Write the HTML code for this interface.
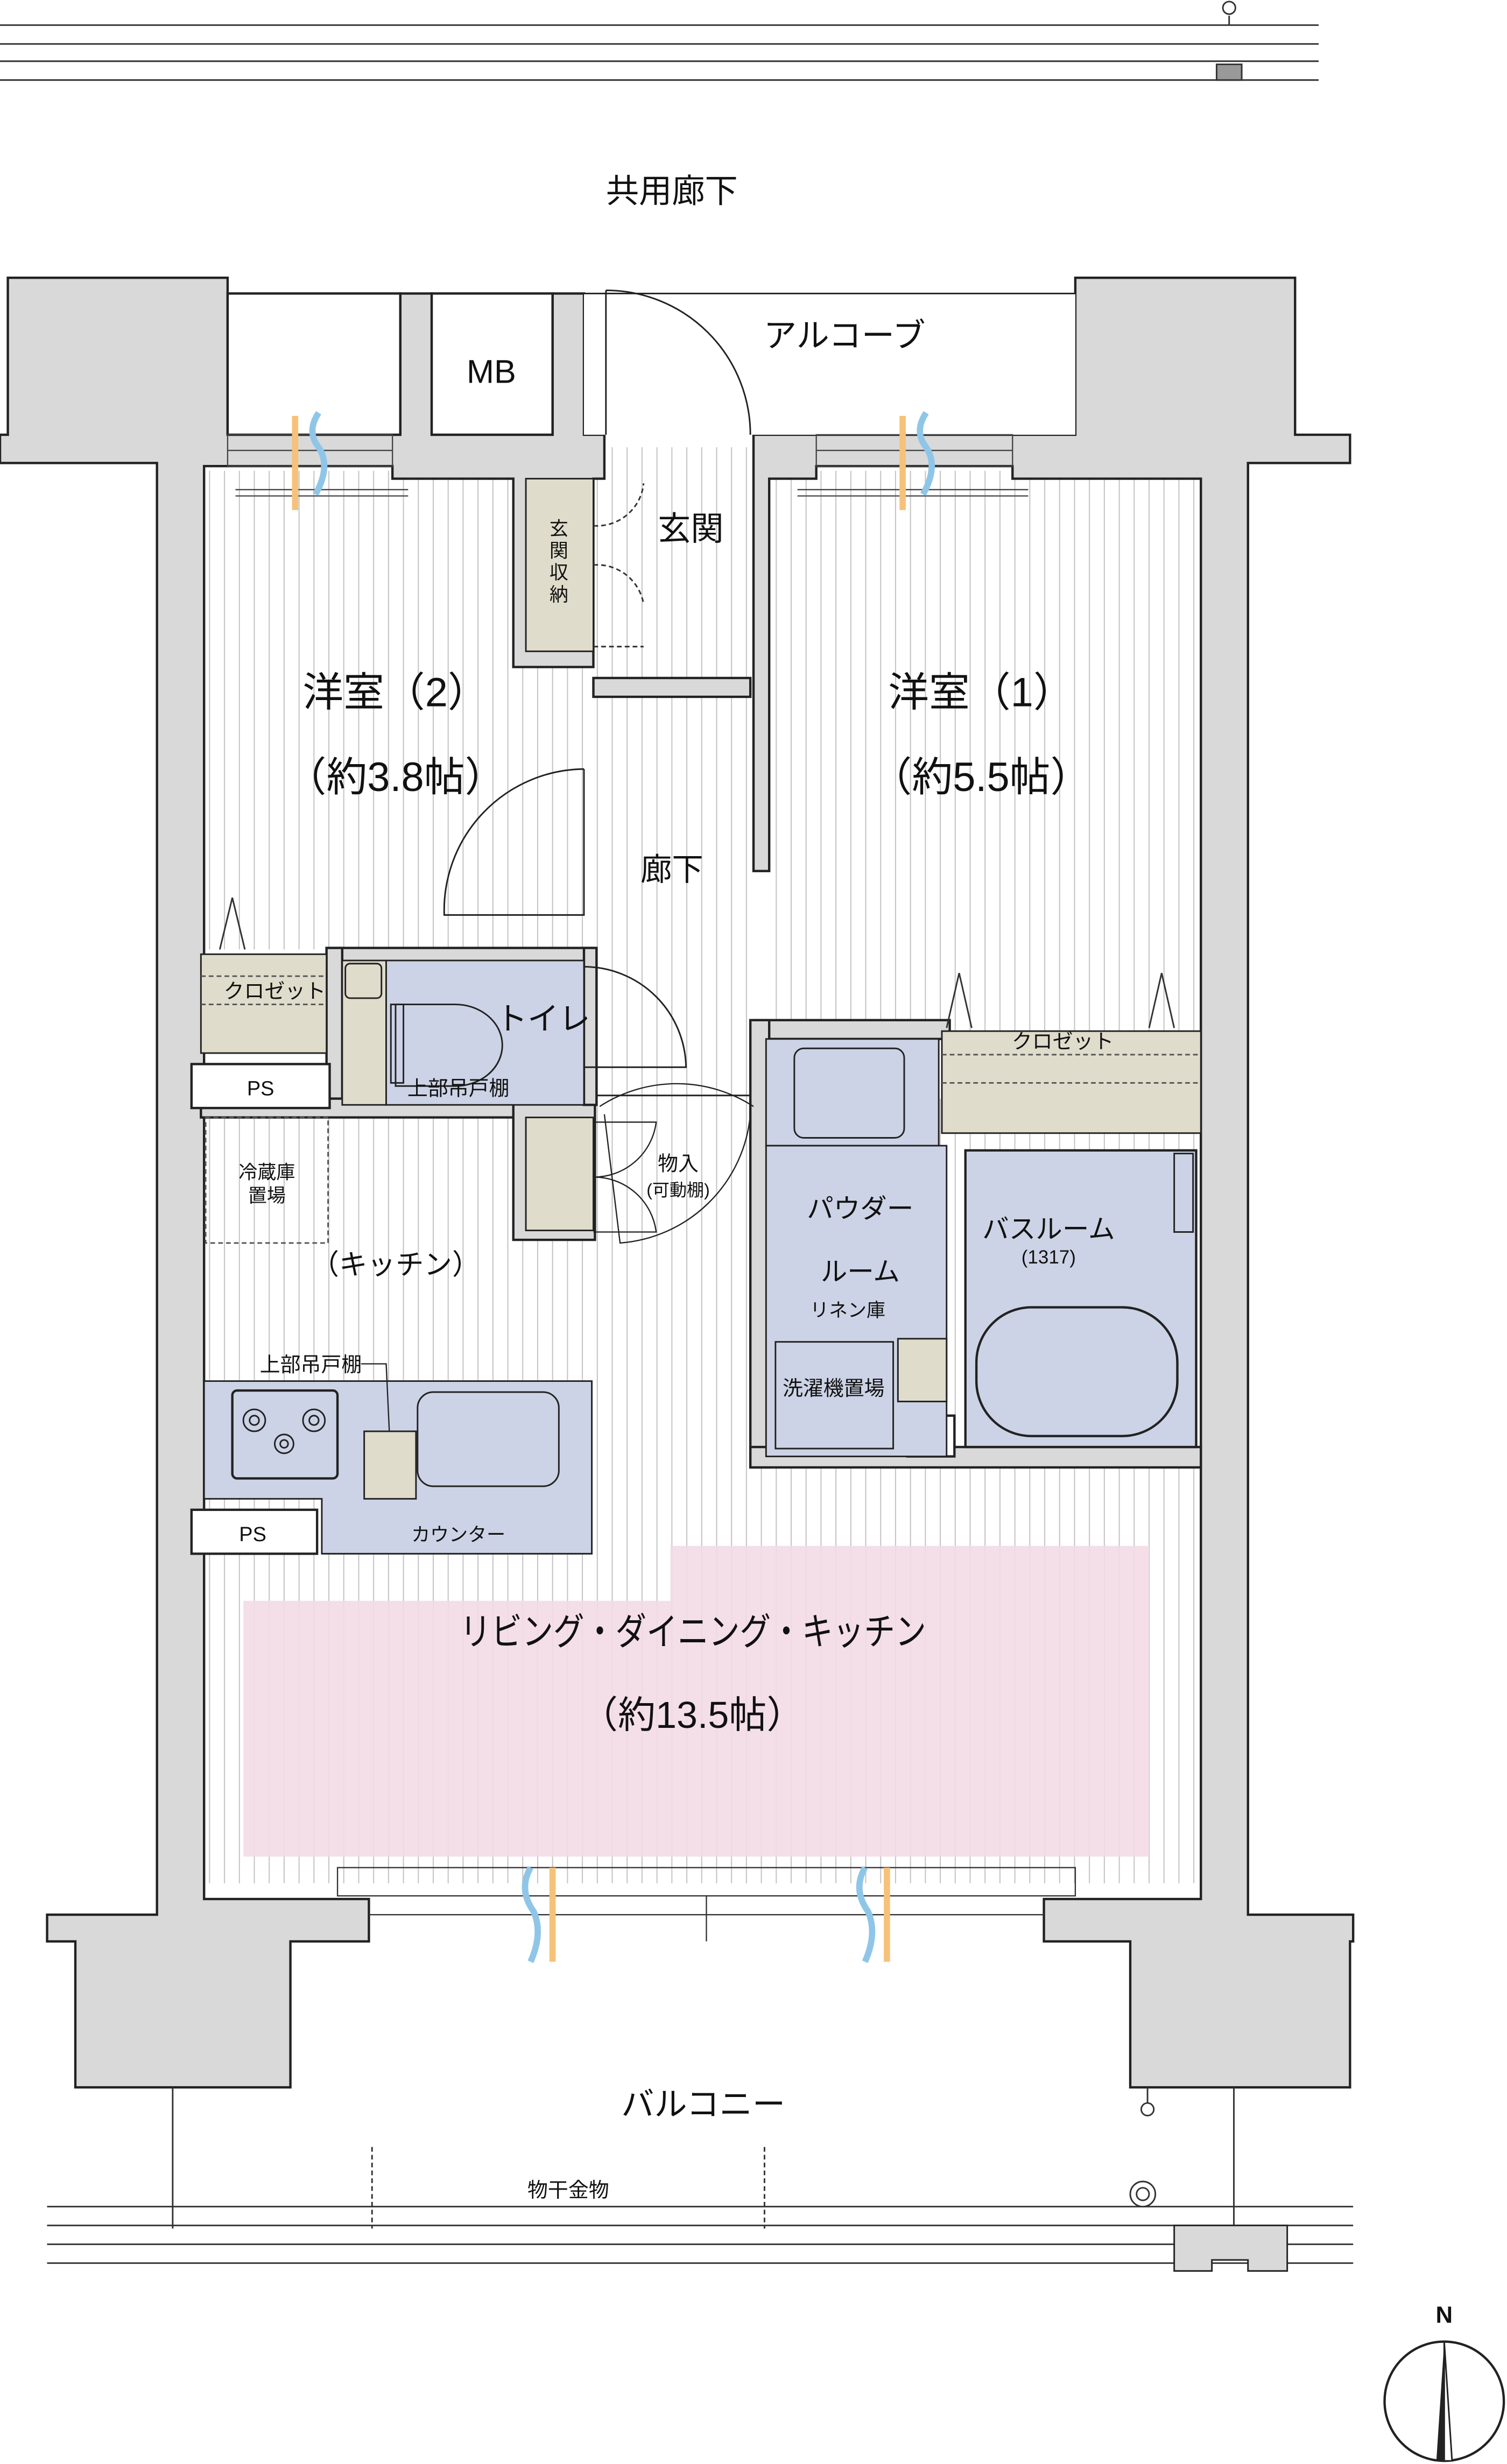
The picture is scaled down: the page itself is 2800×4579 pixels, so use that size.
<!DOCTYPE html>
<html><head><meta charset="utf-8"><style>
html,body{margin:0;padding:0;background:#fff}
svg{display:block}
text{font-family:"Liberation Sans","Noto Sans CJK JP",sans-serif;fill:#111}
</style></head><body>
<svg width="2800" height="4579" viewBox="0 0 960 1570" preserveAspectRatio="none" xmlns="http://www.w3.org/2000/svg">
<defs>
<pattern id="fl" width="9.5" height="20" patternUnits="userSpaceOnUse"><rect width="9.5" height="20" fill="#fff"/><line x1="0.5" y1="0" x2="0.5" y2="20" stroke="#c4c4c4" stroke-width="0.7"/></pattern>
</defs>
<rect width="960" height="1570" fill="#fff"/>
<g stroke="#333" stroke-width="1">
<line x1="0" y1="16" x2="840" y2="16"/><line x1="0" y1="28" x2="840" y2="28"/>
<line x1="0" y1="39" x2="840" y2="39"/><line x1="0" y1="51" x2="840" y2="51"/>
<line x1="783" y1="10" x2="783" y2="16"/>
</g>
<circle cx="783" cy="5" r="4" fill="#fff" stroke="#333"/>
<rect x="775" y="41" width="16" height="10" fill="#999" stroke="#333"/>
<text x="428" y="129" font-size="21" text-anchor="middle">共用廊下</text>

<g fill="url(#fl)">
<rect x="133" y="300" width="245" height="305"/>
<rect x="488" y="300" width="277" height="360"/>
<rect x="375" y="440" width="105" height="270"/>
<rect x="130" y="700" width="635" height="500"/>
<rect x="378" y="285" width="100" height="150"/>
</g>
<polygon points="155,1020 427,1020 427,985 732,985 732,1183 155,1183" fill="#f3dbe5" opacity="0.9"/>

<g fill="#d9d9d9" stroke="#222" stroke-width="1.5">
<polygon points="5,177 145,177 145,277 255,277 255,187 275,187 275,277 352,277 352,187 372,187 372,277 385,277 385,305 378,305 378,425 327,425 327,305 250,305 250,297 130,297 130,1210 235,1210 235,1237 185,1237 185,1330 48,1330 48,1237 30,1237 30,1220 100,1220 100,295 0,295 0,277 5,277"/>
<polygon points="685,177 825,177 825,277 860,277 860,295 795,295 795,1220 862,1220 862,1237 860,1237 860,1330 720,1330 720,1237 665,1237 665,1210 765,1210 765,305 645,305 645,297 520,297 520,305 490,305 490,555 480,555 480,277 685,277"/>
<rect x="378" y="432" width="100" height="12"/>
<rect x="480" y="650" width="125" height="12"/>
<rect x="478" y="650" width="12" height="285"/>
<rect x="478" y="922" width="287" height="13"/>
<rect x="208" y="604" width="170" height="10"/>
<rect x="208" y="604" width="10" height="100"/>
<rect x="128" y="700" width="250" height="12"/>
<rect x="327" y="700" width="52" height="90"/>
<rect x="372" y="604" width="8" height="100"/>
</g>
<rect x="145" y="187" width="110" height="90" fill="#fff" stroke="#222" stroke-width="1.5"/>
<rect x="275" y="187" width="77" height="90" fill="#fff" stroke="#222" stroke-width="1.5"/>
<rect x="372" y="187" width="313" height="90" fill="#fff" stroke="none"/>
<line x1="372" y1="187" x2="685" y2="187" stroke="#222"/>
<text x="313" y="244" font-size="21" text-anchor="middle">MB</text>
<text x="538" y="221" font-size="21" text-anchor="middle">アルコーブ</text>
<path d="M386 185 L386 277 M386 185 A92 92 0 0 1 478 277" fill="none" stroke="#222"/>
<g stroke="#444" stroke-width="0.8" fill="none">
<rect x="145" y="277" width="105" height="20"/><line x1="145" y1="287" x2="250" y2="287"/>
<rect x="520" y="277" width="125" height="20"/><line x1="520" y1="287" x2="645" y2="287"/>
<line x1="150" y1="312" x2="260" y2="312"/><line x1="150" y1="316" x2="260" y2="316"/>
<line x1="508" y1="312" x2="655" y2="312"/><line x1="508" y1="316" x2="655" y2="316"/>
</g>
<g stroke-width="4" fill="none">
<path d="M188 265 L188 325" stroke="#f6c27a"/><path d="M203 263 q-8 12 0 22 q8 12 -2 30" stroke="#8fc6e8"/>
<path d="M575 265 L575 325" stroke="#f6c27a"/><path d="M590 263 q-8 12 0 22 q8 12 -2 30" stroke="#8fc6e8"/>
</g>
<rect x="335" y="305" width="43" height="110" fill="#e0dccb" stroke="#222"/>
<text font-size="12" text-anchor="middle"><tspan x="356" y="341">玄</tspan><tspan x="356" y="355">関</tspan><tspan x="356" y="369">収</tspan><tspan x="356" y="383">納</tspan></text>
<path d="M378 335 A30 30 0 0 0 410 308 M378 360 A30 30 0 0 1 410 385 M378 412 L410 412" fill="none" stroke="#333" stroke-dasharray="3,2"/>
<text x="440" y="344" font-size="21" text-anchor="middle">玄関</text>
<text x="252" y="450" font-size="26" text-anchor="middle">洋室（2）</text>
<text x="252" y="504" font-size="26" text-anchor="middle">（約3.8帖）</text>
<text x="625" y="450" font-size="26" text-anchor="middle">洋室（1）</text>
<text x="625" y="504" font-size="26" text-anchor="middle">（約5.5帖）</text>
<text x="428" y="561" font-size="20" text-anchor="middle">廊下</text>
<path d="M372 490 L372 583 L283 583 A90 90 0 0 1 372 490" fill="none" stroke="#222"/>
<rect x="128" y="608" width="80" height="63" fill="#e0dccb" stroke="#222"/>
<text x="175" y="636" font-size="13" text-anchor="middle">クロゼット</text>
<line x1="128" y1="622" x2="208" y2="622" stroke="#555" stroke-dasharray="3,2"/>
<line x1="128" y1="640" x2="208" y2="640" stroke="#555" stroke-dasharray="3,2"/>
<path d="M140 605 L148 572 L156 605" fill="none" stroke="#333"/>
<rect x="600" y="657" width="165" height="65" fill="#e0dccb" stroke="#222"/>
<text x="677" y="668" font-size="13" text-anchor="middle">クロゼット</text>
<line x1="600" y1="672" x2="765" y2="672" stroke="#555" stroke-dasharray="3,2"/>
<line x1="600" y1="690" x2="765" y2="690" stroke="#555" stroke-dasharray="3,2"/>
<path d="M603 655 L611 620 L619 655 M732 655 L740 620 L748 655" fill="none" stroke="#333"/>
<g fill="#fff" stroke="#222" stroke-width="1.5">
<rect x="122" y="678" width="88" height="28"/><rect x="578" y="902" width="30" height="26"/><rect x="122" y="962" width="80" height="28"/>
</g>
<text x="166" y="698" font-size="13" text-anchor="middle">PS</text>
<text x="593" y="920" font-size="13" text-anchor="middle">PS</text>
<text x="161" y="982" font-size="13" text-anchor="middle">PS</text>
<rect x="218" y="612" width="28" height="92" fill="#e0dccb" stroke="#222"/>
<rect x="246" y="612" width="126" height="92" fill="#cdd3e6" stroke="#222"/>
<rect x="220" y="614" width="23" height="22" rx="3" fill="#e0dccb" stroke="#222"/>
<path d="M252 640 L290 640 A30 26 0 0 1 290 692 L252 692 Z" fill="#cdd3e6" stroke="#222"/>
<rect x="249" y="640" width="8" height="50" fill="none" stroke="#222"/>
<text x="346" y="656" font-size="20" text-anchor="middle">トイレ</text>
<text x="292" y="698" font-size="13" text-anchor="middle">上部吊戸棚</text>
<path d="M372 616 A65 65 0 0 1 437 680 L372 680" fill="none" stroke="#222"/>
<line x1="380" y1="698" x2="478" y2="698" stroke="#222"/>
<rect x="335" y="712" width="43" height="72" fill="#e0dccb" stroke="#222"/>
<path d="M378 715 L418 715 A40 40 0 0 1 378 750 M378 750 A40 40 0 0 1 418 785 L378 785 M382 705 A90 90 0 0 1 480 705 M385 710 L395 792 A90 90 0 0 0 478 710" fill="none" stroke="#222" stroke-width="0.8"/>
<text x="432" y="746" font-size="13" text-anchor="middle">物入</text>
<text x="432" y="762" font-size="11" text-anchor="middle">(可動棚)</text>
<rect x="131" y="712" width="78" height="80" fill="none" stroke="#555" stroke-dasharray="3,2"/>
<text x="170" y="751" font-size="12" text-anchor="middle">冷蔵庫</text>
<text x="170" y="766" font-size="12" text-anchor="middle">置場</text>
<text x="252" y="812" font-size="18" text-anchor="middle">（キッチン）</text>
<polygon points="130,880 377,880 377,990 205,990 205,955 130,955" fill="#cdd3e6" stroke="#222"/>
<rect x="148" y="886" width="67" height="56" rx="3" fill="#cdd3e6" stroke="#222" stroke-width="1.5"/>
<g fill="none" stroke="#222"><circle cx="162" cy="905" r="7"/><circle cx="162" cy="905" r="3"/><circle cx="200" cy="905" r="7"/><circle cx="200" cy="905" r="3"/><circle cx="181" cy="920" r="6"/><circle cx="181" cy="920" r="2.5"/></g>
<rect x="232" y="912" width="33" height="43" fill="#e0dccb" stroke="#222"/>
<rect x="266" y="887" width="90" height="60" rx="10" fill="#cdd3e6" stroke="#222"/>
<text x="198" y="874" font-size="13" text-anchor="middle">上部吊戸棚</text>
<path d="M230 869 L246 869 L248 912" fill="none" stroke="#222" stroke-width="0.8"/>
<text x="292" y="982" font-size="12" text-anchor="middle">カウンター</text>
<rect x="488" y="662" width="110" height="68" fill="#cdd3e6" stroke="#222"/>
<rect x="506" y="668" width="70" height="57" rx="6" fill="none" stroke="#222"/>
<rect x="488" y="730" width="115" height="198" fill="#cdd3e6" stroke="#222"/>
<rect x="572" y="853" width="31" height="40" fill="#e0dccb" stroke="#222"/>
<rect x="494" y="855" width="75" height="68" fill="none" stroke="#222"/>
<text x="548" y="776" font-size="17" text-anchor="middle">パウダー</text>
<text x="548" y="816" font-size="17" text-anchor="middle">ルーム</text>
<text x="540" y="839" font-size="12" text-anchor="middle">リネン庫</text>
<text x="531" y="889" font-size="13" text-anchor="middle">洗濯機置場</text>
<rect x="615" y="733" width="147" height="189" fill="#cdd3e6" stroke="#222" stroke-width="1.5"/>
<rect x="748" y="735" width="12" height="50" fill="none" stroke="#222"/>
<rect x="622" y="833" width="128" height="82" rx="35" fill="#cdd3e6" stroke="#222" stroke-width="1.5"/>
<text x="668" y="789" font-size="17" text-anchor="middle">バスルーム</text>
<text x="668" y="805" font-size="12" text-anchor="middle">(1317)</text>
<text x="293" y="1048" font-size="24" textLength="297" lengthAdjust="spacingAndGlyphs">リビング・ダイニング・キッチン</text>
<text x="441" y="1101" font-size="24" text-anchor="middle">（約13.5帖）</text>
<g stroke="#333" fill="none" stroke-width="0.8">
<rect x="215" y="1190" width="470" height="18"/>
<line x1="235" y1="1220" x2="665" y2="1220"/><line x1="450" y1="1208" x2="450" y2="1237"/>
</g>
<g stroke-width="4" fill="none">
<path d="M352 1190 L352 1250" stroke="#f6c27a"/><path d="M338 1190 q-8 14 2 28 q6 14 -2 32" stroke="#8fc6e8"/>
<path d="M565 1190 L565 1250" stroke="#f6c27a"/><path d="M551 1190 q-8 14 2 28 q6 14 -2 32" stroke="#8fc6e8"/>
</g>
<text x="448" y="1348" font-size="21" text-anchor="middle">バルコニー</text>
<g stroke="#333" stroke-width="1">
<line x1="30" y1="1406" x2="862" y2="1406"/><line x1="30" y1="1418" x2="862" y2="1418"/>
<line x1="30" y1="1430" x2="862" y2="1430"/><line x1="30" y1="1442" x2="862" y2="1442"/>
<line x1="110" y1="1330" x2="110" y2="1420"/><line x1="786" y1="1330" x2="786" y2="1420"/>
<line x1="731" y1="1330" x2="731" y2="1340"/>
</g>
<g stroke="#333" stroke-dasharray="3,2"><line x1="237" y1="1368" x2="237" y2="1420"/><line x1="487" y1="1368" x2="487" y2="1420"/></g>
<circle cx="731" cy="1344" r="4" fill="#fff" stroke="#333"/>
<circle cx="728" cy="1398" r="8" fill="#fff" stroke="#333"/><circle cx="728" cy="1398" r="4" fill="none" stroke="#333"/>
<polygon points="748,1418 820,1418 820,1447 795,1447 795,1440 772,1440 772,1447 748,1447" fill="#d9d9d9" stroke="#222"/>
<text x="362" y="1400" font-size="13" text-anchor="middle">物干金物</text>
<circle cx="920" cy="1530" r="38" fill="#fff" stroke="#222" stroke-width="1.5"/>
<polygon points="920,1492 915,1568 920,1568" fill="#222"/>
<polygon points="920,1492 925,1568 920,1568" fill="#fff" stroke="#222"/>
<text x="920" y="1480" font-size="15" font-weight="bold" text-anchor="middle">N</text>
</svg>
</body></html>
